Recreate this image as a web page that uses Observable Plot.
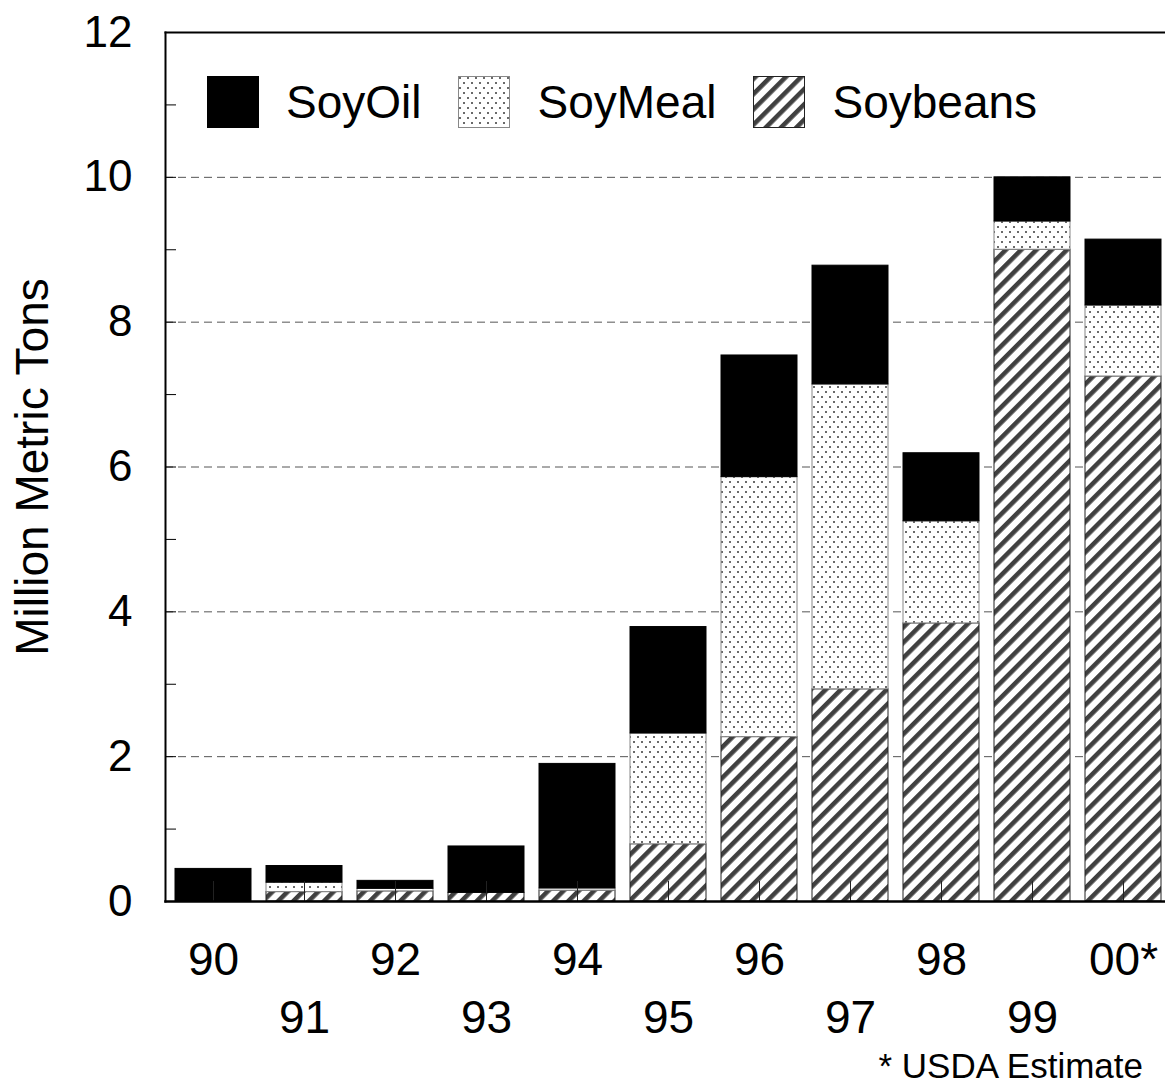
<!DOCTYPE html>
<html>
<head>
<meta charset="utf-8">
<script src="https://cdn.jsdelivr.net/npm/d3@7"></script>
<script src="https://cdn.jsdelivr.net/npm/@observablehq/plot@0.6"></script>
<style>
  html, body { margin: 0; padding: 0; background: #fff; }
  body { width: 1165px; height: 1092px; overflow: hidden; font-family: "Liberation Sans", Arial, sans-serif; }
  #wrap { position: relative; width: 1165px; }
  #chart svg { overflow: hidden; display: block; }
  #legend { position: absolute; left: 207px; top: 76px; display: flex; align-items: center; font-size: 46px; color: #000; }
  #legend .item { display: flex; align-items: center; margin-right: 37px; }
  #legend .item svg { display: block; }
  #legend .item span { margin-left: 27px; line-height: 51px; }
  #caption { width: 1165px; box-sizing: border-box; text-align: right; padding-right: 22px; font-size: 35px; line-height: 42px; color: #000; }
</style>
</head>
<body>
<svg width="0" height="0" style="position:absolute">
  <defs>
    <pattern id="hatch" patternUnits="userSpaceOnUse" width="10.8" height="10.8" patternTransform="rotate(45)">
      <rect x="0" y="0" width="10.8" height="10.8" fill="#fff"></rect>
      <rect x="0" y="0" width="4.6" height="10.8" fill="#404040"></rect>
    </pattern>
    <pattern id="dots" patternUnits="userSpaceOnUse" width="8" height="10">
      <rect x="0" y="0" width="8" height="10" fill="#fff"></rect>
      <rect x="1" y="1" width="2" height="2" fill="#6a6a6a"></rect>
      <rect x="5" y="6" width="2" height="2" fill="#6a6a6a"></rect>
    </pattern>
  </defs>
</svg>
<div id="wrap">
  <div id="chart"></div>
  <div id="legend"></div>
</div>
<div id="caption">* USDA Estimate</div>
<script>
// ---- data (million metric tons) ----
const years = ["90", "91", "92", "93", "94", "95", "96", "97", "98", "99", "00*"];
const soybeans = [0, 0.13, 0.14, 0.12, 0.15, 0.79, 2.27, 2.93, 3.84, 9.0, 7.25];
const soymeal = [0, 0.13, 0.035, 0, 0.03, 1.53, 3.59, 4.21, 1.41, 0.39, 0.98];
const soyoil = [0.45, 0.23, 0.11, 0.64, 1.72, 1.47, 1.68, 1.64, 0.94, 0.61, 0.91];
const seriesNames = ["Soybeans", "SoyMeal", "SoyOil"];
const yTickLabels = [0, 2, 4, 6, 8, 10, 12];
const yMinorTicks = [1, 2, 3, 4, 5, 6, 7, 8, 9, 10, 11];
const gridValues = [2, 4, 6, 8, 10];

const fills = {Soybeans: "url(#hatch)", SoyMeal: "url(#dots)", SoyOil: "#000"};
const strokes = {Soybeans: "#222", SoyMeal: "#888", SoyOil: "#000"};

const seriesValues = {Soybeans: soybeans, SoyMeal: soymeal, SoyOil: soyoil};
const rows = [];
years.forEach((yr, i) => {
  seriesNames.forEach(s => rows.push({year: yr, series: s, value: seriesValues[s][i], idx: i}));
});
const yearRows = years.map((yr, i) => ({year: yr, idx: i}));

const chart = Plot.plot({
  width: 1165,
  height: 1045,
  marginLeft: 165,
  marginRight: -5,
  marginTop: 32,
  marginBottom: 144,
  style: {fontFamily: "'Liberation Sans', Arial, sans-serif", background: "#fff", color: "#000", overflow: "hidden"},
  x: {type: "band", domain: years, paddingInner: 0.167, paddingOuter: 0.088, axis: null},
  y: {domain: [0, 12], axis: null},
  color: {type: "identity"},
  marks: [
    Plot.gridY(gridValues, {stroke: "#555", strokeOpacity: 1, strokeWidth: 1, strokeDasharray: "8,5"}),
    Plot.barY(rows, Plot.stackY({
      x: "year",
      y: "value",
      fill: d => fills[d.series],
      stroke: d => strokes[d.series],
      strokeWidth: 1,
      order: null
    })),
    Plot.axisX({tickSize: -20, tickFormat: () => "", stroke: "#222", label: null}),
    Plot.axisY({ticks: yMinorTicks, tickSize: -11, tickFormat: () => "", stroke: "#000", label: null}),
    Plot.axisY({ticks: yTickLabels, tickSize: 0, tickPadding: 33, fontSize: 44, label: null}),
    Plot.frame({anchor: "left", stroke: "#000", strokeWidth: 2}),
    Plot.frame({anchor: "top", stroke: "#000", strokeWidth: 2}),
    Plot.frame({anchor: "bottom", stroke: "#000", strokeWidth: 2.5}),
    Plot.text(yearRows.filter(d => d.idx % 2 === 0), {x: "year", text: "year", frameAnchor: "bottom", dy: 59, lineAnchor: "middle", fontSize: 46, fill: "#000"}),
    Plot.text(yearRows.filter(d => d.idx % 2 === 1), {x: "year", text: "year", frameAnchor: "bottom", dy: 117, lineAnchor: "middle", fontSize: 46, fill: "#000"}),
    Plot.text(["Million Metric Tons"], {frameAnchor: "left", dx: -132, rotate: -90, textAnchor: "middle", lineAnchor: "middle", fontSize: 46, fill: "#000"})
  ]
});
document.getElementById("chart").appendChild(chart);

// legend (order as in reference: SoyOil, SoyMeal, Soybeans)
const legend = d3.select("#legend");
["SoyOil", "SoyMeal", "Soybeans"].forEach(s => {
  const item = legend.append("div").attr("class", "item");
  const sw = item.append("svg").attr("width", 52).attr("height", 52);
  sw.append("rect").attr("x", 0.5).attr("y", 0.5).attr("width", 51).attr("height", 51)
    .attr("fill", fills[s]).attr("stroke", strokes[s]).attr("stroke-width", 1);
  item.append("span").text(s);
});
</script>
</body>
</html>
